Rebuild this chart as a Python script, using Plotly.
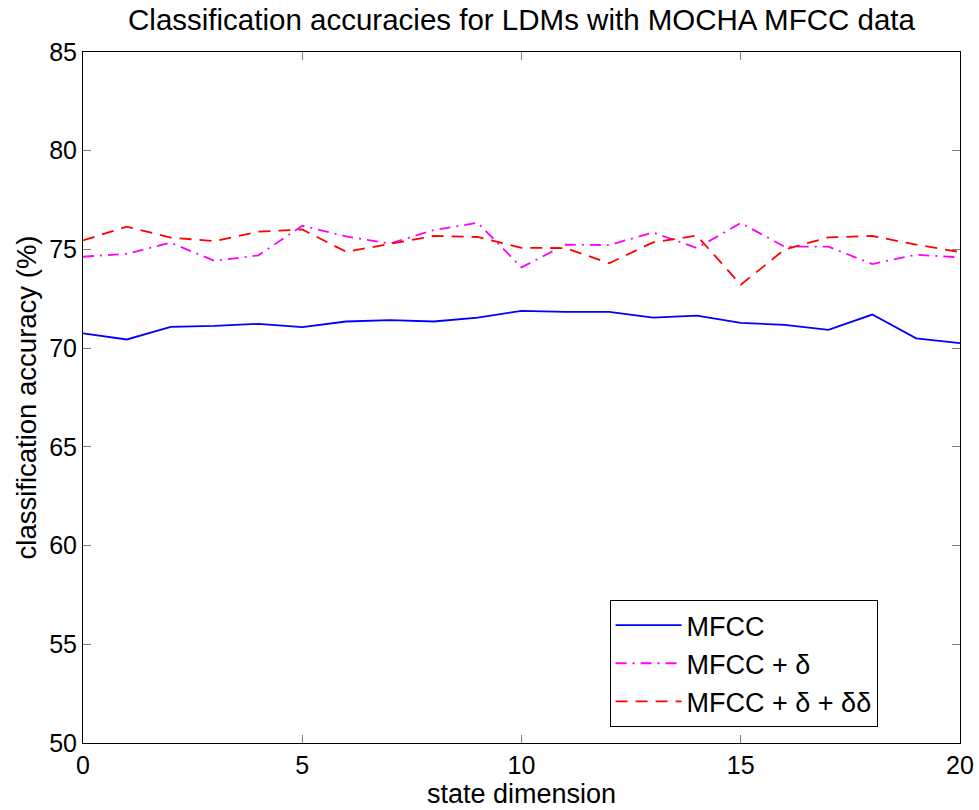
import plotly.graph_objects as go

state_dim = list(range(21))
mfcc = [70.75, 70.44, 71.08, 71.13, 71.23, 71.06, 71.35, 71.42, 71.35, 71.55, 71.89,
        71.84, 71.84, 71.55, 71.65, 71.28, 71.18, 70.93, 71.70, 70.50, 70.25]
mfcc_d = [74.63, 74.78, 75.34, 74.42, 74.70, 76.20, 75.66, 75.30, 75.98, 76.35, 74.09,
          75.24, 75.22, 75.86, 75.07, 76.34, 75.14, 75.14, 74.26, 74.73, 74.60]
mfcc_dd = [75.46, 76.15, 75.60, 75.42, 75.90, 76.01, 74.88, 75.29, 75.68, 75.63, 75.08,
           75.07, 74.30, 75.36, 75.70, 73.21, 75.00, 75.61, 75.68, 75.24, 74.87]

font = "Liberation Sans, Arial, Helvetica, sans-serif"

fig = go.Figure()
fig.add_trace(go.Scatter(x=state_dim, y=mfcc, mode="lines", name="MFCC",
                         line=dict(color="#0000ff", width=1.8)))
fig.add_trace(go.Scatter(x=state_dim, y=mfcc_d, mode="lines", name="MFCC + δ",
                         line=dict(color="#ff00ff", width=1.8, dash="11px,6px,2px,6px")))
fig.add_trace(go.Scatter(x=state_dim, y=mfcc_dd, mode="lines", name="MFCC + δ + δδ",
                         line=dict(color="#ff0000", width=1.8, dash="12px,8px")))

axis_common = dict(showline=True, linecolor="black", linewidth=1, mirror="ticks",
                   ticks="inside", ticklen=8, tickcolor="#808080", showgrid=False,
                   zeroline=False, automargin=False,
                   tickfont=dict(size=25, color="black", family=font))

fig.update_layout(
    width=979, height=810,
    margin=dict(l=83, r=19, t=52, b=67),
    paper_bgcolor="white", plot_bgcolor="white",
    font=dict(family=font, color="black"),
    title=dict(text="Classification accuracies for LDMs with MOCHA MFCC data",
               x=(83 + 438.5) / 979, xanchor="center", y=1 - 20 / 810, yanchor="middle",
               font=dict(size=29.5, family=font, color="black")),
    xaxis=dict(range=[0, 20], tickvals=[0, 5, 10, 15, 20],
               title=dict(text="state dimension", font=dict(size=27, family=font), standoff=3),
               **axis_common),
    yaxis=dict(range=[50, 85], tickvals=[50, 55, 60, 65, 70, 75, 80, 85],
               title=dict(text="classification accuracy (%)", font=dict(size=27.5, family=font), standoff=4),
               **axis_common),
    legend=dict(x=0.906, y=0.023, xanchor="right", yanchor="bottom",
                bordercolor="black", borderwidth=1, bgcolor="white",
                font=dict(size=27, family=font, color="black"),
                itemwidth=66, tracegroupgap=0),
    showlegend=True,
)

fig.write_html("out.html")
